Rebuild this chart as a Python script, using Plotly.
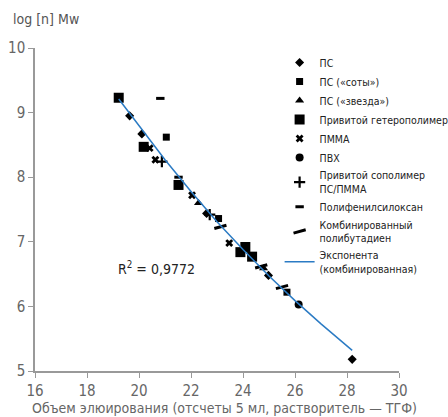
import plotly.graph_objects as go

FONT = "Liberation Sans Narrow, 'DejaVu Sans Condensed', 'Roboto Condensed', 'Arial Narrow', sans-serif"

# ---- data ----
ps_x = [19.64, 20.11, 22.60, 24.98, 28.20]
ps_y = [8.95, 8.67, 7.44, 6.48, 5.18]

ps_comb_x = [21.05, 23.06, 25.69]
ps_comb_y = [8.62, 7.36, 6.22]

ps_star_x = [22.29, 24.79]
ps_star_y = [7.60, 6.59]

graft_hetero_x = [19.22, 20.18, 21.52, 23.90, 24.09, 24.35]
graft_hetero_y = [9.23, 8.47, 7.88, 6.84, 6.92, 6.77]

pmma_x = [20.41, 20.63, 22.04, 23.47]
pmma_y = [8.45, 8.27, 7.72, 6.98]

pvc_x = [26.14]
pvc_y = [6.03]

graft_copoly_x = [20.88, 22.72]
graft_copoly_y = [8.24, 7.42]

polyphenyl_x = [20.82, 21.52]
polyphenyl_y = [9.22, 8.00]

polybutadiene_x = [23.13, 24.70, 25.50]
polybutadiene_y = [7.23, 6.62, 6.30]

trend_x = [19.22, 20.0, 21.0, 22.0, 23.0, 24.0, 25.0, 26.0, 27.0, 28.2]
trend_y = [9.21, 8.79, 8.27, 7.78, 7.31, 6.88, 6.47, 6.09, 5.73, 5.32]

x_ticks = [16, 18, 20, 22, 24, 26, 28, 30]
y_ticks = [5, 6, 7, 8, 9, 10]

fig = go.Figure()

def pts(x, y, name, symbol, size, lw=0, angle=0):
    fig.add_trace(go.Scatter(
        x=x, y=y, mode="markers", name=name,
        marker=dict(symbol=symbol, size=size, color="black", angle=angle,
                    line=dict(color="black", width=lw)),
    ))

pts(ps_x, ps_y, "ПС", "diamond", 7)
pts(ps_comb_x, ps_comb_y, "ПС («соты»)", "square", 7)
pts(ps_star_x, ps_star_y, "ПС («звезда»)", "triangle-up", 8)
pts(graft_hetero_x, graft_hetero_y, "Привитой гетерополимер", "square", 10)
pts(pmma_x, pmma_y, "ПММА", "x", 7)
pts(pvc_x, pvc_y, "ПВХ", "circle", 8)
pts(graft_copoly_x, graft_copoly_y, "Привитой сополимер<br>ПС/ПММА", "cross-thin", 8, lw=2.2)
pts(polyphenyl_x, polyphenyl_y, "Полифенилсилоксан", "line-ew", 6, lw=3)
pts(polybutadiene_x, polybutadiene_y, "Комбинированный<br>полибутадиен", "line-ew", 9, lw=3, angle=-15)

fig.add_trace(go.Scatter(
    x=trend_x, y=trend_y, mode="lines", name="Экспонента<br>(комбинированная)",
    line=dict(color="#2b7bc4", width=1.5),
))

fig.add_annotation(x=19.1, y=6.59, xref="x", yref="y", xanchor="left",
                   text="R<sup>2</sup> = 0,9772", showarrow=False,
                   font=dict(family=FONT, size=14, color="#222"))

fig.add_annotation(x=-0.065, y=1.058, xref="paper", yref="paper", xanchor="left", yanchor="bottom",
                   text="log [n] Mw", showarrow=False,
                   font=dict(family=FONT, size=14, color="#555"))

fig.add_annotation(x=0.52, y=-0.085, xref="paper", yref="paper", xanchor="center", yanchor="top",
                   text="Объем элюирования (отсчеты 5 мл, растворитель — ТГФ)", showarrow=False,
                   font=dict(family=FONT, size=14, color="#666"))

fig.update_layout(
    width=448, height=417,
    margin=dict(l=35, r=49, t=48, b=46, autoexpand=False),
    paper_bgcolor="white", plot_bgcolor="white",
    font=dict(family=FONT, color="#555"),
    showlegend=True,
    legend=dict(x=0.672, y=1.0, xanchor="left", yanchor="top",
                bgcolor="rgba(0,0,0,0)", borderwidth=0,
                font=dict(family=FONT, size=10.5, color="#222"),
                tracegroupgap=0, itemwidth=30),
    xaxis=dict(range=[16, 30], tickvals=x_ticks, ticks="outside", ticklen=5,
               tickcolor="#999", showline=True, linecolor="#999", linewidth=1.5,
               showgrid=False, zeroline=False,
               tickfont=dict(family=FONT, size=15, color="#666")),
    yaxis=dict(range=[5, 10], tickvals=y_ticks, ticks="outside", ticklen=5,
               tickcolor="#999", showline=True, linecolor="#999", linewidth=1.5,
               showgrid=False, zeroline=False,
               tickfont=dict(family=FONT, size=15, color="#666")),
)

fig.write_html("out.html")
